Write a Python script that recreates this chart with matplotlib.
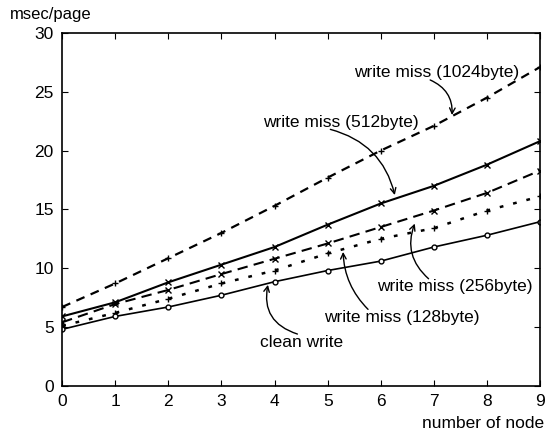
import matplotlib.pyplot as plt

plt.rcParams['font.family'] = ['Liberation Sans', 'DejaVu Sans']

nodes = [0, 1, 2, 3, 4, 5, 6, 7, 8, 9]
miss_1024 = [6.7, 8.7, 10.85, 13.0, 15.3, 17.7, 20.0, 22.1, 24.5, 27.1]
miss_512 = [5.9, 7.1, 8.8, 10.3, 11.8, 13.7, 15.5, 17.0, 18.8, 20.8]
miss_256 = [5.4, 6.95, 8.15, 9.5, 10.8, 12.1, 13.5, 14.9, 16.4, 18.3]
miss_128 = [5.1, 6.2, 7.4, 8.7, 9.8, 11.25, 12.5, 13.4, 14.9, 16.1]
clean_write = [4.8, 5.9, 6.7, 7.7, 8.85, 9.8, 10.6, 11.8, 12.8, 13.95]

# label text, text position, arrow start, arrow end, curvature
labels = ['write miss (1024byte)', 'write miss (512byte)', 'write miss (256byte)',
          'write miss (128byte)', 'clean write']
label_pos = [(7.05, 26.6), (5.25, 22.4), (7.4, 8.4), (6.4, 5.8), (4.5, 3.7)]
arrow_from = [(6.93, 26.0), (5.05, 21.8), (6.9, 9.1), (5.76, 6.5), (4.43, 4.4)]
arrow_to = [(7.34, 22.9), (6.27, 16.1), (6.65, 13.9), (5.29, 11.5), (3.88, 8.7)]
arrow_rad = [-0.35, -0.3, -0.35, -0.2, -0.45]

fig = plt.figure(figsize=(5.5, 4.33), dpi=100)
ax = fig.add_axes([0.113, 0.109, 0.869, 0.815])

ax.plot(nodes, miss_1024, color='black', lw=1.6, ls=(0, (4, 3)), marker='+', ms=4)
ax.plot(nodes, miss_512, color='black', lw=1.5, ls='-', marker='x', ms=4)
ax.plot(nodes, miss_256, color='black', lw=1.5, ls=(0, (5, 3)), marker='x', ms=4)
ax.plot(nodes, miss_128, color='black', lw=1.8, ls=(0, (1.5, 4)), marker='+', ms=4)
ax.plot(nodes, clean_write, color='black', lw=1.2, ls='-', marker='o', ms=3.5,
        mfc='white')

ax.set_xlim(0, 9)
ax.set_ylim(0, 30)
ax.set_xticks(range(0, 10))
ax.set_yticks(range(0, 31, 5))
ax.tick_params(direction='in', top=True, right=True, labelsize=12.5, length=4,
               pad=6)
for s in ax.spines.values():
    s.set_linewidth(1.2)

fig.text(0.018, 0.955, 'msec/page', fontsize=12)
fig.text(0.99, 0.012, 'number of node', fontsize=12.5, ha='right')

for text, pos, start, end, rad in zip(labels, label_pos, arrow_from, arrow_to,
                                      arrow_rad):
    ax.text(pos[0], pos[1], text, fontsize=12.5, ha='center', va='center')
    ax.annotate('', xy=end, xytext=start,
                arrowprops=dict(arrowstyle='->', color='black', lw=1.0,
                                connectionstyle='arc3,rad=%s' % rad,
                                shrinkA=0, shrinkB=1))

fig.savefig('out.png', dpi=100)
